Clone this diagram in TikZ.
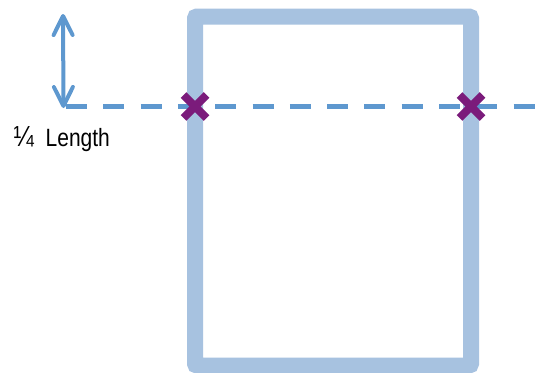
\documentclass[tikz,border=0pt]{standalone}
\usepackage{graphicx}
\usepackage{fontspec}
\setmainfont{Liberation Sans}
\usetikzlibrary{arrows.meta}
\definecolor{framecol}{HTML}{A7C2E0}
\definecolor{linecol}{HTML}{5E98CF}
\definecolor{crosscol}{HTML}{7B1B7B}
\tikzset{
  framebox/.style={draw=framecol, line width=16pt, rounded corners=2pt, fill=white},
  levelline/.style={draw=linecol, line width=4.5pt, dash pattern=on 21pt off 16.3pt},
  barbtip/.tip={Straight Barb[length=19pt,width=19pt,line width=4pt,round]},
  dimarrow/.style={draw=linecol, line width=4pt, barbtip-barbtip},
  crossmark/.style={draw=crosscol, line width=8pt},
  lbl/.style={font=\fontsize{25pt}{30pt}\selectfont, inner sep=0pt, anchor=base west}
}
\begin{document}
\begin{tikzpicture}[x=1pt,y=-1pt]
\useasboundingbox (0,0) rectangle (537,372);
\draw[framebox] (195,16.5) rectangle (471,365.5) coordinate (frameBR);
\coordinate (frameTL) at (195,16.5);
\coordinate (lineL) at (66,106.5);
\coordinate (lineR) at (537,106.5);
\coordinate (arrTop) at (63,14);
\coordinate (arrBot) at (63.5,108);
\draw[levelline] (lineL) -- (lineR);
\draw[dimarrow] (arrTop) -- (arrBot);
\coordinate (xa) at (195,106.5);
\coordinate (xb) at (471,106.5);
\foreach \c in {xa,xb}{
  \draw[crossmark] ([shift={(-11.5,-11.5)}]\c) -- ([shift={(11.5,11.5)}]\c);
  \draw[crossmark] ([shift={(-11.5,11.5)}]\c) -- ([shift={(11.5,-11.5)}]\c);
}
\node[lbl] (len) at (13.5,146) {\scalebox{0.84}[1]{{\fontsize{29pt}{30pt}\selectfont ¼}\ \ Length}};
\end{tikzpicture}
\end{document}
